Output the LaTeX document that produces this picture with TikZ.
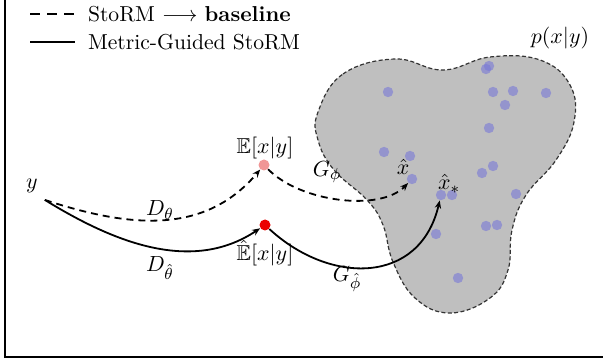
\documentclass[tikz,border=0pt]{standalone}
\usepackage{amsmath,amssymb}
\usetikzlibrary{arrows.meta}
\definecolor{blobgray}{RGB}{191,191,191}
\definecolor{ptblue}{RGB}{120,120,215}
\definecolor{meanpink}{RGB}{240,150,150}
\definecolor{meanred}{RGB}{235,0,0}
\tikzset{
  sample/.style={circle,fill=ptblue,fill opacity=0.6,inner sep=0pt,minimum size=5.2pt},
  meandot/.style={circle,inner sep=0pt,minimum size=5.5pt},
  flowline/.style={line width=0.9pt,-{Stealth[length=4pt,width=3.2pt]}},
  baseflow/.style={flowline,dash pattern=on 3.5pt off 2.5pt},
}

\begin{document}
\begin{tikzpicture}[x=0.5pt,y=-0.5pt,font=\fontsize{10.8pt}{13pt}\selectfont]
\useasboundingbox (0,0) rectangle (603,362);
% frame
\draw[line width=1pt] (5,0) -- (5,357) -- (603,357);

% legend
\draw[line width=1.4pt,dash pattern=on 5pt off 3.5pt] (30,14) -- (75,14);
\node[anchor=west] (legbase) at (81,14) {StoRM $\longrightarrow$ \textbf{baseline}};
\draw[line width=1.4pt] (30,42) -- (75,42);
\node[anchor=west] (legmg) at (81,42) {Metric-Guided StoRM};

% posterior region
\draw[fill=blobgray,draw=black!80,line width=0.6pt,dash pattern=on 2pt off 1.2pt]
  plot[smooth cycle,tension=0.7] coordinates {
  (318,112) (343,74) (395,59) (443,70) (490,57) (540,60) (570,85) (574,122)
  (556,160) (526,195) (512,230) (508,270) (490,298) (450,313) (415,298)
  (393,262) (383,225) (367,200) (334,170) (318,140)};
\node (pxy) at (560,38) {$p(x|y)$};

% samples
\foreach \px/\py [count=\k] in {388/92,486/69,489/66,493/92,513/91,546/93,505/105,
  489/128,384/152,410/156,482/173,493/166,452/195,516/194,486/226,497/225,436/234,458/278}
  \node[sample] (s\k) at (\px,\py) {};
\node[sample] (xh) at (412,179) {};
\node[sample] (xs) at (441,195) {};
\node (xhlab) at (403,167) {$\hat{x}$};
\node (xslab) at (449,184) {$\hat{x}_*$};

% observation and means
\node (y) at (32,186) {$y$};
\node[meandot,fill=meanpink] (Ebar) at (264,165) {};
\node (Ebarlab) at (265,148) {$\mathbb{E}[x|y]$};
\node[meandot,fill=meanred] (Ehat) at (265,225) {};
\node (Ehatlab) at (265,253) {$\hat{\mathbb{E}}[x|y]$};

% flows
\draw[baseflow] (y.south east) .. controls (130,228) and (205,235) .. (Ebar);
\draw[flowline] (y.south east) .. controls (110,240) and (190,275) .. (Ehat);
\draw[baseflow] (Ebar) .. controls (300,202) and (380,212) .. (xh);
\draw[flowline] (Ehat) .. controls (330,285) and (420,285) .. (xs);

\node (Dth) at (160,210) {$D_\theta$};
\node (Dthh) at (160,268) {$D_{\hat\theta}$};
\node (Gph) at (327,172) {$G_\phi$};
\node (Gphh) at (347,279) {$G_{\hat\phi}$};
\end{tikzpicture}
\end{document}
